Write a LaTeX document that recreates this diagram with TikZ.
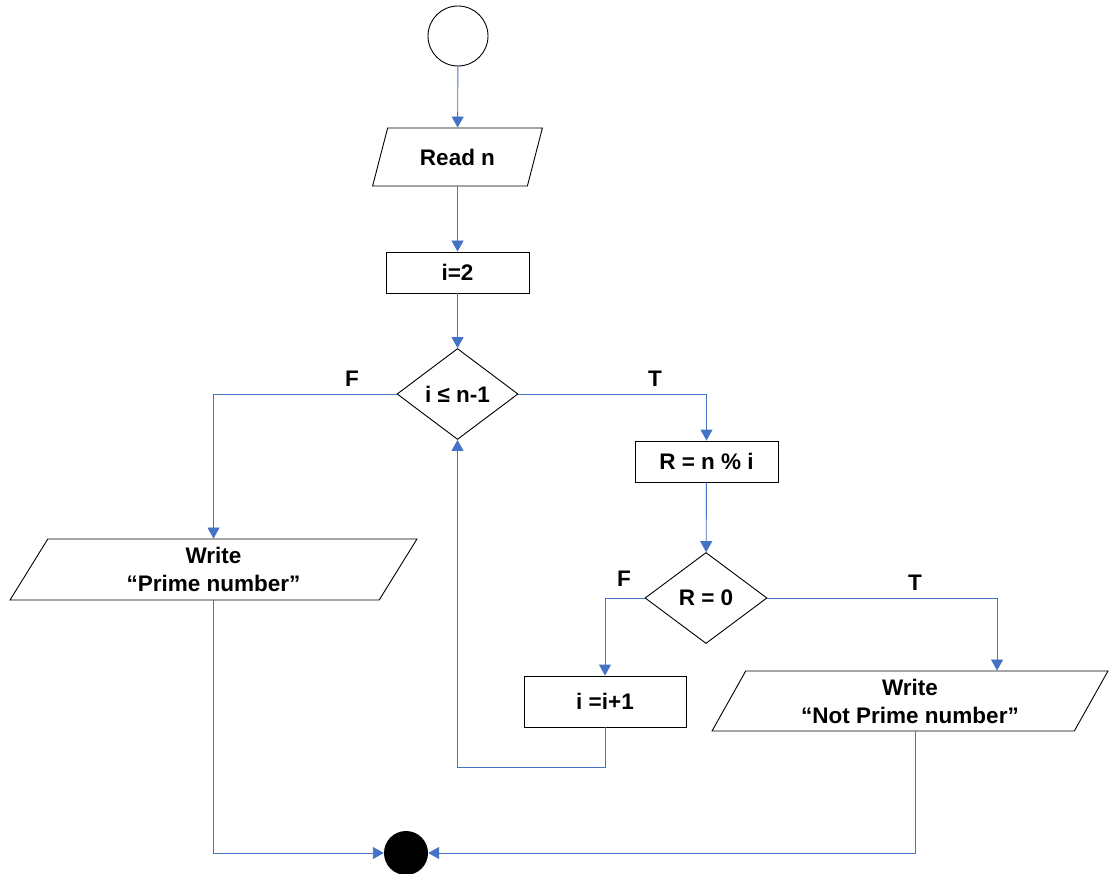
\documentclass[tikz,border=0pt]{standalone}
\usepackage{fontspec}
\setmainfont{Liberation Sans}
\usetikzlibrary{shapes.geometric,arrows.meta,positioning,calc}
\definecolor{flowblue}{HTML}{4472C4}
\begin{document}
\begin{tikzpicture}[x=1pt,y=-1pt,
  every node/.style={font=\fontsize{22.5}{28}\selectfont\bfseries, text=black},
  box/.style={draw=black, line width=0.9pt, rectangle, inner sep=0pt},
  inout/.style={draw=black, line width=0.9pt, trapezium, trapezium left angle=64,
    trapezium right angle=116, trapezium stretches=true, inner sep=0pt, align=center},
  decide/.style={draw=black, line width=0.9pt, diamond, inner sep=0pt,
    minimum width=121pt, minimum height=91pt},
  flow/.style={draw=flowblue, line width=0.9pt, -{Triangle[length=11pt,width=12pt]}},
  lbl/.style={inner sep=0pt}]
\useasboundingbox (0,0) rectangle (1110,874);

% terminals
\node[circle, draw=black, line width=0.9pt, minimum size=60pt, inner sep=0pt] (start) at (458,36) {};
\node[circle, fill=black, minimum size=44pt, inner sep=0pt] (stop) at (406,853) {};

% process steps
\node[inout, minimum width=171pt, minimum height=58pt] (read) at (457.5,157) {Read n};
\node[box, minimum width=143pt, minimum height=41pt] (init) at (457.5,272.5) {i=2};
\node[decide] (loop) at (457.5,394) {i ≤ n-1};
\node[box, minimum width=143pt, minimum height=41pt] (rem) at (706.5,461.5) {R = n \% i};
\node[decide, minimum width=122pt, minimum height=91pt] (zero) at (706,598) {R = 0};
\node[box, minimum width=162pt, minimum height=51pt] (inc) at (605,701.5) {i =i+1};
\node[inout, minimum width=407pt, minimum height=61pt, trapezium left angle=66,
  trapezium right angle=114] (prime) at (213.5,569.5) {Write\\“Prime number”};
\node[inout, minimum width=396pt, minimum height=60pt, trapezium left angle=63.4,
  trapezium right angle=116.6] (notprime) at (910,701) {Write\\“Not Prime number”};

% branch labels
\node[lbl] (f1) at (352,379) {F};
\node[lbl] (t1) at (655,379) {T};
\node[lbl] (f2) at (624,579) {F};
\node[lbl] (t2) at (915,583) {T};

% connectors
\draw[flow] (start) -- (read);
\draw[flow] (read) -- (init);
\draw[flow] (init) -- (loop);
\draw[flow] (loop.west) -| (prime.north);
\draw[flow] (loop.east) -| (rem.north);
\draw[flow] (rem) -- (zero);
\draw[flow] (zero.west) -| (inc.north);
\coordinate (npin) at ([xshift=87pt]notprime.north);
\draw[flow] (zero.east) -| (npin);
\draw[flow] (inc.south) -- ++(0,40) -| (loop.south);
\draw[flow] (prime.south) |- (stop.west);
\coordinate (npout) at ([xshift=5pt]notprime.south);
\draw[flow] (npout) |- (stop.east);
\end{tikzpicture}
\end{document}
